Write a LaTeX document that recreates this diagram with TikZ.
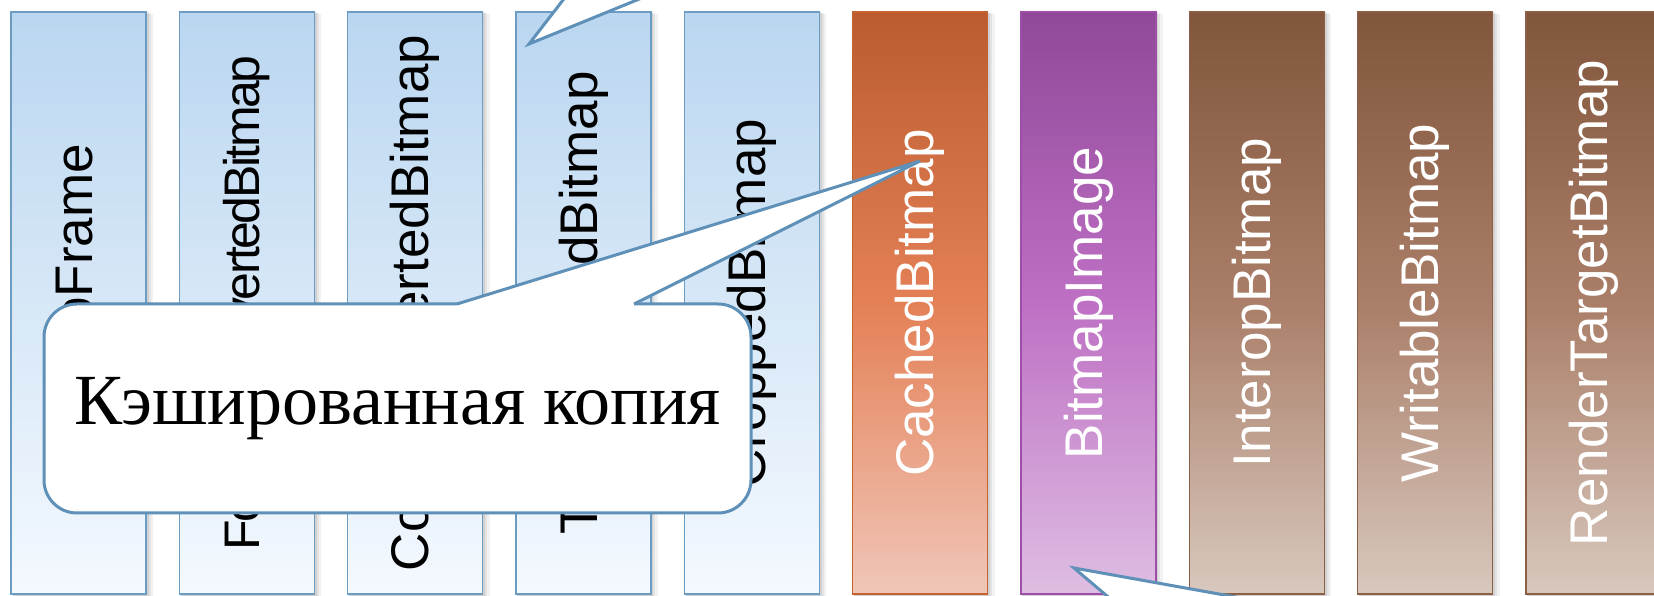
\documentclass[tikz,border=0pt]{standalone}
\usepackage{fontspec}
\setmainfont{Liberation Serif}
\newfontfamily\barfont{Liberation Sans}
\definecolor{cstroke}{RGB}{94,144,184}
\definecolor{bluetop}{RGB}{186,214,240}
\definecolor{bluebot}{RGB}{244,249,254}
\definecolor{blueline}{RGB}{106,156,196}
\definecolor{orgtop}{RGB}{186,92,46}
\definecolor{orgmid}{RGB}{228,128,86}
\definecolor{orgbot}{RGB}{240,198,184}
\definecolor{orgline}{RGB}{196,98,48}
\definecolor{purtop}{RGB}{144,72,152}
\definecolor{purmid}{RGB}{190,112,196}
\definecolor{purbot}{RGB}{222,190,226}
\definecolor{purline}{RGB}{158,78,168}
\definecolor{brntop}{RGB}{130,86,60}
\definecolor{brnmid}{RGB}{170,126,104}
\definecolor{brnbot}{RGB}{216,200,190}
\definecolor{brnline}{RGB}{140,96,70}
\begin{document}
\begin{tikzpicture}[x=1pt,y=1pt,
  bar/.style={draw, minimum width=135pt, minimum height=582pt, inner sep=0pt, line width=1.3pt},
  bluebar/.style={bar, draw=blueline, top color=bluetop, bottom color=bluebot},
  orgbar/.style={bar, draw=orgline, top color=orgtop, bottom color=orgbot, middle color=orgmid},
  purbar/.style={bar, draw=purline, top color=purtop, bottom color=purbot, middle color=purmid},
  brnbar/.style={bar, draw=brnline, top color=brntop, bottom color=brnbot, middle color=brnmid},
  bartext/.style={rotate=90, inner sep=0pt, font=\barfont\fontsize{53}{60}\selectfont},
  darktext/.style={bartext, text=black},
  lighttext/.style={bartext, text=white},
  callout/.style={draw=cstroke, fill=white, line width=3pt, rounded corners=33pt,
    minimum width=707pt, minimum height=209pt, inner sep=0pt, font=\fontsize{72}{80}\selectfont},
  tail/.style={draw=cstroke, line width=3pt, line join=miter, fill=white}
]
\useasboundingbox (0,0) rectangle (1654,596);
\clip (0,0) rectangle (1654,596);
\fill[white] (0,0) rectangle (1654,596);
% soft shadows of the bars
\foreach \i in {0,...,9}{
  \pgfmathsetmacro\cx{78.5+168.33*\i}
  \fill[black,opacity=0.05] (\cx-66,0) rectangle (\cx+67.5+7,582);
  \fill[black,opacity=0.06] (\cx-66,0) rectangle (\cx+67.5+4.5,583);
  \fill[black,opacity=0.08] (\cx-66,0) rectangle (\cx+67.5+2.5,584);
}
% bars
\node[bluebar] (b1) at (78.5,293) {};
\node[bluebar] (b2) at (246.8,293) {};
\node[bluebar] (b3) at (415.2,293) {};
\node[bluebar] (b4) at (583.5,293) {};
\node[bluebar] (b5) at (751.8,293) {};
\node[orgbar] (b6) at (920.2,293) {};
\node[purbar] (b7) at (1088.5,293) {};
\node[brnbar] (b8) at (1256.8,293) {};
\node[brnbar] (b9) at (1425.1,293) {};
\node[brnbar] (b10) at (1593.5,293) {};
% bar labels
\node[darktext, font=\barfont\fontsize{50}{58}\selectfont\addfontfeature{LetterSpace=-5}] (t2) at (b2) {FormatConvertedBitmap};
\node[darktext] (t1) at (b1) {BitmapFrame};
\node[darktext] (t3) at (b3) {ColorConvertedBitmap};
\node[darktext] (t4) at (b4) {TransformedBitmap};
\node[darktext] (t5) at (b5) {CroppedBitmap};
\node[lighttext] (t6) at (b6) {CachedBitmap};
\node[lighttext] (t7) at (b7) {BitmapImage};
\node[lighttext] (t8) at (b8) {InteropBitmap};
\node[lighttext] (t9) at (b9) {WritableBitmap};
\node[lighttext] (t10) at (b10) {RenderTargetBitmap};
% tails of callouts lying outside the picture
\coordinate (ttip) at (529,552);
\coordinate (tt1) at (594,636);
\coordinate (tt2) at (735,636);
\draw[tail] (tt1) -- (ttip) -- (tt2);
\coordinate (btip) at (1074,28);
\coordinate (bt1) at (1159,-44);
\coordinate (bt2) at (1475,-44);
\draw[tail] (bt1) -- (btip) -- (bt2);
% main callout
\node[callout] (cb) at (397.5,187.5) {Кэшированная копия};
\coordinate (ta) at (457,292);
\coordinate (tb) at (634,292);
\coordinate (tip) at (920,435);
\fill[white] (ta) -- (tip) -- (tb) -- (634,289) -- (457,289) -- cycle;
\draw[cstroke, line width=3pt, line join=miter] (ta) -- (tip) -- (tb);
\end{tikzpicture}
\end{document}
